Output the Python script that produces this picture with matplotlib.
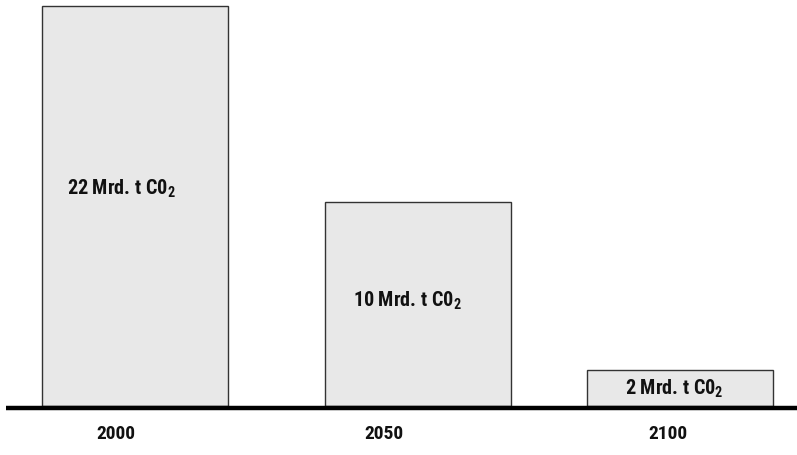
import matplotlib
matplotlib.use("Agg")
import matplotlib.pyplot as plt
from matplotlib import font_manager

# schmale schrift suchen, sonst Roboto
namen = sorted(set(f.name for f in font_manager.fontManager.ttflist))
schrift = 'Roboto'
for n in ['Liberation Sans Narrow', 'Roboto Condensed', 'DejaVu Sans Condensed',
          'Open Sans Condensed', 'Noto Sans Condensed']:
    if n in namen:
        schrift = n
        break

plt.rcParams['font.family'] = [schrift, 'DejaVu Sans']
plt.rcParams['mathtext.fontset'] = 'custom'
plt.rcParams['mathtext.rm'] = schrift + ':bold'
plt.rcParams['mathtext.it'] = schrift + ':bold'
plt.rcParams['mathtext.bf'] = schrift + ':bold'

# daten
jahre = ['2000', '2050', '2100']
werte = [22, 10, 2]              # Mrd. t CO2 (Beschriftung)
hoehen = [22.0, 11.2, 2.0]       # Balkenhoehe wie im Bild
labels = [f"{w} Mrd. t C0$_2$" for w in werte]

# layout (pixel)
links = [42, 325, 587]
breite = 186
label_x = [121, 407, 674]
label_y = [0.545, 0.52, 0.5]
jahr_x = [116, 384, 668]
px = 18.2   # pixel pro einheit
basis = 49  # pixel von unten

fig = plt.figure(figsize=(7.97, 4.56), dpi=100)
ax = fig.add_axes([0, 0, 1, 1])
ax.set_xlim(0, 797)
ax.set_ylim(-basis / px, (456 - basis) / px)
ax.axis('off')

ax.bar(links, hoehen, width=breite, align='edge', color='#e8e8e8',
       edgecolor='#333333', linewidth=1.0, zorder=2)

for i in range(len(jahre)):
    ax.text(label_x[i], hoehen[i] * label_y[i], labels[i], ha='center', va='center',
            fontsize=14.5, fontweight='bold', color='#111111', zorder=3)
    ax.text(jahr_x[i], -27 / px, jahre[i], ha='center', va='center',
            fontsize=14, fontweight='bold', color='#111111')

ax.plot([6, 797], [-2 / px, -2 / px], color='black', linewidth=3.2,
        solid_capstyle='butt', zorder=4)

fig.savefig('out.png', dpi=100)
